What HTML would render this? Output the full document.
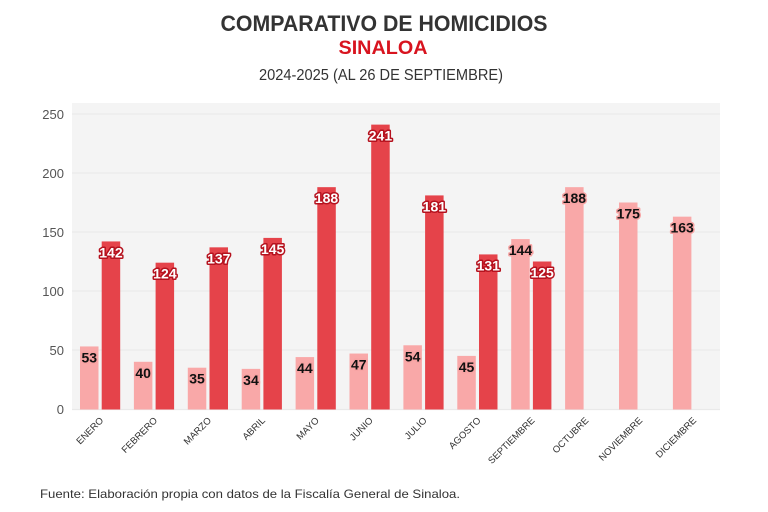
<!DOCTYPE html>
<html><head><meta charset="utf-8"><style>
html,body{margin:0;padding:0;background:#fff;}
svg{display:block;}
</style></head><body>
<svg width="768" height="512" viewBox="0 0 768 512" xmlns="http://www.w3.org/2000/svg" font-family="Liberation Sans, sans-serif">
<rect width="768" height="512" fill="#fff"/>
<text x="384" y="31" text-anchor="middle" font-size="22" font-weight="bold" fill="#333" textLength="327" lengthAdjust="spacingAndGlyphs">COMPARATIVO DE HOMICIDIOS</text>
<text x="383" y="54" text-anchor="middle" font-size="19" font-weight="bold" fill="#d8141f" textLength="89" lengthAdjust="spacingAndGlyphs">SINALOA</text>
<text x="381" y="80" text-anchor="middle" font-size="16" fill="#333" textLength="244" lengthAdjust="spacingAndGlyphs">2024-2025 (AL 26 DE SEPTIEMBRE)</text>
<rect x="72" y="103" width="648" height="307" fill="#f4f4f4"/>
<g stroke="#e9e9e9" stroke-width="1.2">
<line x1="72" x2="720" y1="114" y2="114"/>
<line x1="72" x2="720" y1="173" y2="173"/>
<line x1="72" x2="720" y1="232" y2="232"/>
<line x1="72" x2="720" y1="291" y2="291"/>
<line x1="72" x2="720" y1="350" y2="350"/>
<line x1="72" x2="720" y1="409.5" y2="409.5"/>
</g>
<g font-size="13" fill="#555" text-anchor="end">
<text x="64" y="119">250</text>
<text x="64" y="178">200</text>
<text x="64" y="237">150</text>
<text x="64" y="296">100</text>
<text x="64" y="355">50</text>
<text x="64" y="414">0</text>
</g>
<g fill="#f9a8a8">
<rect x="80" y="346.46" width="18.5" height="63.04"/>
<rect x="133.9" y="361.8" width="18.5" height="47.7"/>
<rect x="187.8" y="367.7" width="18.5" height="41.8"/>
<rect x="241.7" y="368.88" width="18.5" height="40.62"/>
<rect x="295.6" y="357.08" width="18.5" height="52.42"/>
<rect x="349.5" y="353.54" width="18.5" height="55.96"/>
<rect x="403.4" y="345.28" width="18.5" height="64.22"/>
<rect x="457.3" y="355.9" width="18.5" height="53.6"/>
<rect x="511.2" y="239.08" width="18.5" height="170.42"/>
<rect x="565.1" y="187.16" width="18.5" height="222.34"/>
<rect x="619" y="202.5" width="18.5" height="207"/>
<rect x="672.9" y="216.66" width="18.5" height="192.84"/>
</g>
<g fill="#e5434a">
<rect x="101.7" y="241.44" width="18.5" height="168.06"/>
<rect x="155.6" y="262.68" width="18.5" height="146.82"/>
<rect x="209.5" y="247.34" width="18.5" height="162.16"/>
<rect x="263.4" y="237.9" width="18.5" height="171.6"/>
<rect x="317.3" y="187.16" width="18.5" height="222.34"/>
<rect x="371.2" y="124.62" width="18.5" height="284.88"/>
<rect x="425.1" y="195.42" width="18.5" height="214.08"/>
<rect x="479" y="254.42" width="18.5" height="155.08"/>
<rect x="532.9" y="261.5" width="18.5" height="148"/>
</g>
<g font-size="14" font-weight="bold" text-anchor="middle" fill="#111" stroke="#f7a3a3" stroke-width="3" paint-order="stroke" stroke-linejoin="round">
<text x="89.25" y="362.5">53</text>
<text x="143.15" y="377.8">40</text>
<text x="197.05" y="383.7">35</text>
<text x="250.95" y="384.9">34</text>
<text x="304.85" y="373.1">44</text>
<text x="358.75" y="369.5">47</text>
<text x="412.65" y="361.3">54</text>
<text x="466.55" y="371.9">45</text>
<text x="520.45" y="255.1">144</text>
<text x="574.35" y="203.2">188</text>
<text x="628.25" y="218.5">175</text>
<text x="682.15" y="232.7">163</text>
</g>
<g font-size="14" font-weight="bold" text-anchor="middle" fill="#fff" stroke="#b5121e" stroke-width="3" paint-order="stroke" stroke-linejoin="round">
<text x="110.95" y="257.5">142</text>
<text x="164.85" y="278.7">124</text>
<text x="218.75" y="263.4">137</text>
<text x="272.65" y="253.9">145</text>
<text x="326.55" y="203.2">188</text>
<text x="380.45" y="140.6">241</text>
<text x="434.35" y="211.4">181</text>
<text x="488.25" y="270.4">131</text>
<text x="542.15" y="277.5">125</text>
</g>
<g font-size="9.5" fill="#333" text-anchor="end">
<text x="104" y="421" transform="rotate(-45 104 421)">ENERO</text>
<text x="157.9" y="421" transform="rotate(-45 157.9 421)">FEBRERO</text>
<text x="211.8" y="421" transform="rotate(-45 211.8 421)">MARZO</text>
<text x="265.7" y="421" transform="rotate(-45 265.7 421)">ABRIL</text>
<text x="319.6" y="421" transform="rotate(-45 319.6 421)">MAYO</text>
<text x="373.5" y="421" transform="rotate(-45 373.5 421)">JUNIO</text>
<text x="427.4" y="421" transform="rotate(-45 427.4 421)">JULIO</text>
<text x="481.3" y="421" transform="rotate(-45 481.3 421)">AGOSTO</text>
<text x="535.2" y="421" transform="rotate(-45 535.2 421)">SEPTIEMBRE</text>
<text x="589.1" y="421" transform="rotate(-45 589.1 421)">OCTUBRE</text>
<text x="643" y="421" transform="rotate(-45 643 421)">NOVIEMBRE</text>
<text x="696.9" y="421" transform="rotate(-45 696.9 421)">DICIEMBRE</text>
</g>
<text x="40" y="498" font-size="12" fill="#333" textLength="420" lengthAdjust="spacingAndGlyphs">Fuente: Elaboración propia con datos de la Fiscalía General de Sinaloa.</text>
</svg>
</body></html>
